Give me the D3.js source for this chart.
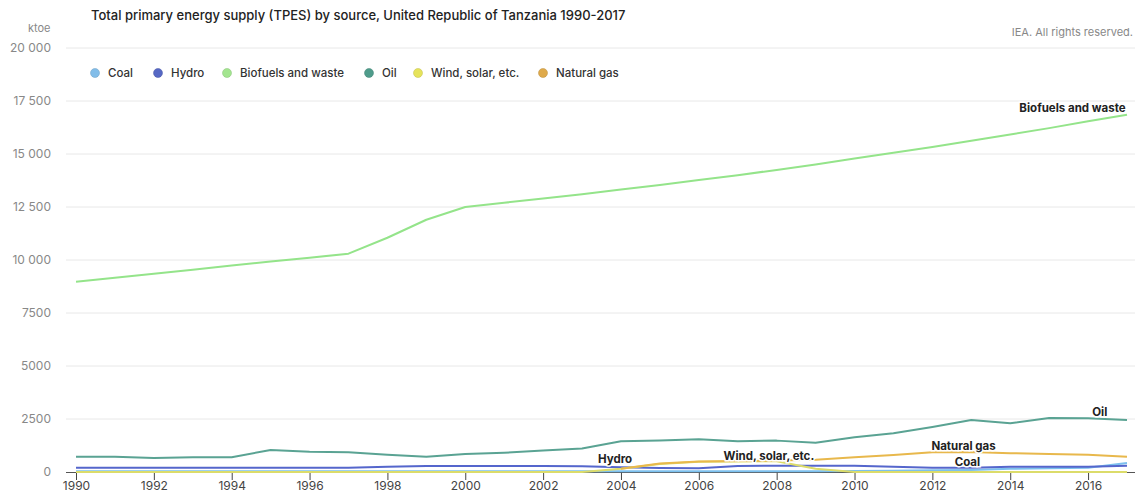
<!DOCTYPE html>
<html><head><meta charset="utf-8">
<script src="https://cdn.jsdelivr.net/npm/d3@7"></script>
<style>
html,body{margin:0;padding:0;background:#fff;}
svg{display:block;font-family:Inter, "Open Sans", sans-serif;}
</style></head>
<body>
<svg id="chart" width="1135" height="494"></svg>
<script>
const years = d3.range(1990, 2018);
const yTicks = [0, 2500, 5000, 7500, 10000, 12500, 15000, 17500, 20000];
const xTicks = [1990,1992,1994,1996,1998,2000,2002,2004,2006,2008,2010,2012,2014,2016];
const seriesNames = ["Coal", "Hydro", "Biofuels and waste", "Oil", "Wind, solar, etc.", "Natural gas"];
const coal = [40,40,40,40,40,40,40,40,40,40,40,40,40,40,40,40,40,40,40,40,50,60,80,100,150,180,200,420];
const hydro = [200,200,200,200,200,200,200,200,250,280,280,280,280,270,220,190,175,280,300,300,300,250,200,200,250,250,250,300];
const biofuels = [8970,9160,9350,9540,9740,9930,10110,10300,11050,11900,12500,12700,12900,13100,13320,13540,13770,14000,14250,14510,14790,15060,15330,15620,15920,16220,16540,16850];
const oil = [720,720,660,690,700,1040,960,930,815,720,850,910,1010,1110,1450,1480,1540,1450,1480,1380,1640,1830,2120,2450,2300,2550,2530,2450];
const wind = [0,0,0,0,0,0,0,0,0,0,0,0,0,0,150,380,480,500,510,150,0,0,0,0,0,0,0,0];
const gas = [null,null,null,null,null,null,null,null,null,null,null,null,null,null,150,400,500,520,540,580,690,800,930,940,890,850,815,720];
const seriesValues = [coal, hydro, biofuels, oil, wind, gas];
const legendColors = ["#82bde9", "#5668c4", "#a3e58f", "#4f9c8b", "#e6e35b", "#dfaa4b"];
const lineColors = ["#7cc0ee", "#5566cc", "#94e48a", "#5aa393", "#dcdc6a", "#e8b84c"];

const svg = d3.select("#chart");
const x = d3.scaleLinear().domain([1990, 2017]).range([76, 1127]);
const y = d3.scaleLinear().domain([0, 20000]).range([472, 48]);

// title
svg.append("text").attr("x", 91).attr("y", 20).attr("font-size", 13).attr("font-weight", 500).attr("fill", "#222")
  .text("Total primary energy supply (TPES) by source, United Republic of Tanzania 1990-2017");
svg.append("text").attr("x", 1133).attr("y", 36).attr("font-size", 11).attr("fill", "#888").attr("text-anchor", "end")
  .text("IEA. All rights reserved.");
svg.append("text").attr("x", 28).attr("y", 32).attr("font-size", 11).attr("fill", "#888").text("ktoe");

// grid
const fmt = v => v >= 10000 ? d3.format(",")(v).replace(",", " ") : String(v);
svg.append("g").selectAll("line").data(yTicks.filter(d => d > 0)).join("line")
  .attr("x1", 66).attr("x2", 1135).attr("y1", d => y(d)).attr("y2", d => y(d))
  .attr("stroke", "#e8e8e8").attr("stroke-width", 1);
svg.append("g").selectAll("text").data(yTicks).join("text")
  .attr("x", 51).attr("y", d => y(d)).attr("dy", "0.35em").attr("text-anchor", "end")
  .attr("font-size", 12).attr("fill", "#888").text(fmt);

// x axis
const xAxis = d3.axisBottom(x).tickValues(xTicks).tickFormat(d3.format("d")).tickSize(8).tickSizeOuter(0);
const gx = svg.append("g").attr("transform", "translate(0,472)").call(xAxis);
gx.select(".domain").attr("stroke", "#555").attr("d", "M66,0.5H1135");
gx.selectAll(".tick line").attr("stroke", "#444");
gx.selectAll(".tick text").attr("font-size", 12).attr("fill", "#444").attr("font-family", "Inter, sans-serif").attr("dy", "0.6em");

// lines
const line = d3.line().defined(d => d[1] != null).x(d => x(d[0])).y(d => y(d[1]));
seriesValues.forEach((vals, i) => {
  svg.append("path").datum(years.map((yr, j) => [yr, vals[j]]))
    .attr("fill", "none").attr("stroke", lineColors[i]).attr("stroke-width", 2)
    .attr("stroke-linejoin", "round").attr("d", line);
});

// legend
const legendX = [95, 158, 227, 369, 418, 543];
const lg = svg.append("g");
seriesNames.forEach((n, i) => {
  lg.append("circle").attr("cx", legendX[i]).attr("cy", 73).attr("r", 4.5)
    .attr("fill", legendColors[i]).attr("stroke", d3.color(legendColors[i]).darker(0.5)).attr("stroke-width", 0.5);
  lg.append("text").attr("x", legendX[i] + 13).attr("y", 73).attr("dy", "0.35em")
    .attr("font-size", 11.5).attr("font-weight", 500).attr("fill", "#333").text(n);
});

// line labels
const labels = [
  {name: "Biofuels and waste", yr: 2015.6, val: biofuels[25], dy: -16},
  {name: "Oil", yr: 2016.3, val: oil[26], dy: -2},
  {name: "Natural gas", yr: 2012.8, val: gas[23], dy: -2},
  {name: "Coal", yr: 2012.9, val: coal[23], dy: -4},
  {name: "Wind, solar, etc.", yr: 2007.8, val: wind[18], dy: -1},
  {name: "Hydro", yr: 2003.85, val: hydro[14], dy: -4}
];
svg.append("g").selectAll("text").data(labels).join("text")
  .attr("x", d => x(d.yr)).attr("y", d => y(d.val) + d.dy)
  .attr("text-anchor", "middle").attr("font-size", 11.5).attr("font-weight", 700).attr("fill", "#222")
  .attr("paint-order", "stroke").attr("stroke", "#fff").attr("stroke-width", 3)
  .text(d => d.name);
</script>
</body></html>
